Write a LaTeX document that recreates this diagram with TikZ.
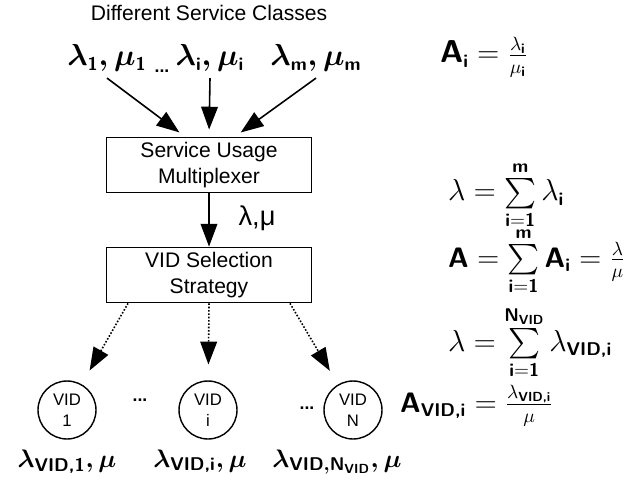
\documentclass[tikz,border=0pt]{standalone}
\usepackage{amsmath}
\usepackage{fontspec}
\setmainfont{Liberation Sans}
\usetikzlibrary{arrows.meta}

% index sizes for the formula fonts
\DeclareMathSizes{19}{19}{10.5}{8}
\DeclareMathSizes{18}{18}{10.5}{8}
\DeclareMathSizes{16}{16}{10.5}{7.5}
\DeclareMathSizes{15}{15}{10.5}{7.5}

% bold sans letters inside formulas
\newcommand{\sv}[1]{\textsf{\bfseries #1}}

\tikzset{
  box/.style={draw, line width=1pt, minimum width=4.1cm, minimum height=1.1cm,
    align=center, inner sep=1pt, font=\fontsize{12}{14.5}\selectfont},
  vid/.style={draw, circle, line width=0.8pt, minimum size=1.16cm, inner sep=0pt,
    align=center, font=\fontsize{9.5}{12}\selectfont},
  flow/.style={-{Triangle[length=13pt,width=9.5pt]}, line width=0.9pt},
  pick/.style={flow, densely dotted, shorten >=9pt},
  big/.style={anchor=base, font=\fontsize{19}{22}\selectfont\boldmath},
  eqn/.style={anchor=base west, font=\fontsize{16}{19}\selectfont},
  lbl/.style={anchor=base, font=\fontsize{15}{18}\selectfont\boldmath},
}

\begin{document}
\begin{tikzpicture}[x=0.02cm, y=-0.02cm]
    \useasboundingbox (0,0) rectangle (641,489);
    % incoming classes
    \node[font=\fontsize{12}{14}\selectfont] (title) at (209,13) {Different Service Classes};
    \node[big] (c1) at (107,66) {$\lambda_{\sv{1}}, \mu_{\sv{1}}$};
    \node[font=\bfseries] (d1) at (162,71) {...};
    \node[big] (ci) at (210,66) {$\lambda_{\sv{i}}, \mu_{\sv{i}}$};
    \node[big] (cm) at (316,66) {$\lambda_{\sv{m}}, \mu_{\sv{m}}$};
    \node[eqn, font=\fontsize{18}{21}\selectfont] (ai) at (434,63)
      {$\sv{A}_{\sv{i}} = \frac{\lambda_{\sv{i}}}{\mu_{\sv{i}}}$};

    % the two stages
    \node[box] (mux) at (209,165) {Service Usage\\Multiplexer};
    \node[box] (sel) at (209,275) {VID Selection\\Strategy};
    \node[font=\fontsize{15.5}{18}\selectfont] (rate) at (257,218) {λ,μ};

    % VIDs
    \node[vid] (v1) at (67,410) {VID\\1};
    \node[vid] (vi) at (208,410) {VID\\i};
    \node[vid] (vn) at (353,410) {VID\\N};
    \node[font=\bfseries] (d2) at (140,400) {...};
    \node[font=\bfseries] (d3) at (307,408) {...};

    \draw[flow, shorten >=4pt] (c1.south) -- ([xshift=-0.48cm]mux.north);
    \draw[flow, shorten >=4pt] (ci.south) -- (mux.north);
    \draw[flow, shorten >=4pt] (cm.south) -- ([xshift=0.52cm]mux.north);
    \draw[flow] (mux) -- (sel);
    \draw[pick] ([xshift=-1.62cm]sel.south) -- (v1);
    \draw[pick] (sel.south) -- (vi);
    \draw[pick] ([xshift=1.62cm]sel.south) -- (vn);

    % rates
    \node[eqn] (sl) at (442,201)
      {$\lambda = \sum\limits_{\sv{i}=\sv{1}}^{\sv{m}} \lambda_{\sv{i}}$};
    \node[eqn] (sa) at (442,267)
      {$\sv{A} = \sum\limits_{\sv{i}=\sv{1}}^{\sv{m}} \sv{A}_{\sv{i}} = \frac{\lambda}{\mu}$};
    \node[eqn] (sv) at (442,351)
      {$\lambda = \sum\limits_{\sv{i}=\sv{1}}^{\sv{N}_{\sv{VID}}} \lambda_{\sv{VID,i}}$};
    \node[eqn] (av) at (394,412)
      {$\sv{A}_{\sv{VID,i}} = \frac{\lambda_{\sv{VID,i}}}{\mu}$};

    \node[lbl] (r1) at (67,467) {$\lambda_{\sv{VID,1}}, \mu$};
    \node[lbl] (ri) at (200,467) {$\lambda_{\sv{VID,i}}, \mu$};
    \node[lbl] (rn) at (337,467) {$\lambda_{\sv{VID},\sv{N}_{\sv{VID}}}, \mu$};
\end{tikzpicture}
\end{document}
